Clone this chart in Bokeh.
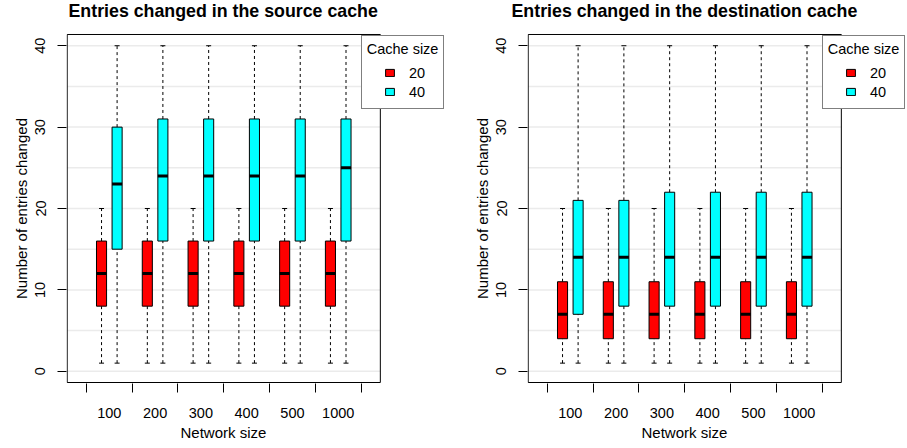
import numpy as np
from bokeh.plotting import figure
from bokeh.models import ColumnDataSource, FixedTicker, Legend, LegendItem, Range1d, Title
from bokeh.layouts import row
from bokeh.embed import file_html
from bokeh.resources import INLINE

# ---------------- data ----------------
categories = ["100", "200", "300", "400", "500", "1000"]
cache_sizes = ["20", "40"]

# source cache, cache size 20
src20_low = [1, 1, 1, 1, 1, 1]
src20_q1 = [8, 8, 8, 8, 8, 8]
src20_med = [12, 12, 12, 12, 12, 12]
src20_q3 = [16, 16, 16, 16, 16, 16]
src20_high = [20, 20, 20, 20, 20, 20]
# source cache, cache size 40
src40_low = [1, 1, 1, 1, 1, 1]
src40_q1 = [15, 16, 16, 16, 16, 16]
src40_med = [23, 24, 24, 24, 24, 25]
src40_q3 = [30, 31, 31, 31, 31, 31]
src40_high = [40, 40, 40, 40, 40, 40]
# destination cache, cache size 20
dst20_low = [1, 1, 1, 1, 1, 1]
dst20_q1 = [4, 4, 4, 4, 4, 4]
dst20_med = [7, 7, 7, 7, 7, 7]
dst20_q3 = [11, 11, 11, 11, 11, 11]
dst20_high = [20, 20, 20, 20, 20, 20]
# destination cache, cache size 40
dst40_low = [1, 1, 1, 1, 1, 1]
dst40_q1 = [7, 8, 8, 8, 8, 8]
dst40_med = [14, 14, 14, 14, 14, 14]
dst40_q3 = [21, 21, 22, 22, 22, 22]
dst40_high = [40, 40, 40, 40, 40, 40]

y_ticks = [0, 10, 20, 30, 40]
grid_ticks = [0, 5, 10, 15, 20, 25, 30, 35, 40]

# ---------------- layout / style ----------------
COLORS = ["#FF0000", "#00FFFF"]
FONT = "Liberation Sans"
OFFSET = 0.17
BOX_W = 0.22
# plot-box limits (R style box); the bokeh frame extends further right to host the legend
BOX_X = (0.08, 6.92)
BOX_Y = (-1.38, 41.38)
PX_X = 45.78   # px per x unit
PX_Y = 8.185   # px per y unit
FRAME_W = 379
X_RANGE = (BOX_X[0] - 0.7 / PX_X, BOX_X[0] - 0.7 / PX_X + FRAME_W / PX_X)
Y_RANGE = (BOX_Y[0] - 1 / PX_Y, BOX_Y[1] + 1 / PX_Y)


def panel(title, stats20, stats40, width, mb_right, title_offset):
    p = figure(width=width, height=448, output_backend="svg", toolbar_location=None,
               x_range=Range1d(*X_RANGE), y_range=Range1d(*Y_RANGE),
               min_border_left=66, min_border_right=mb_right,
               min_border_top=31, min_border_bottom=65, title=None)
    p.background_fill_color = "white"
    p.border_fill_color = "white"
    p.outline_line_color = None

    # spacer between plot box and main title, then the main title
    p.add_layout(Title(text=" ", text_font_size="8px", standoff=0), "above")
    p.add_layout(Title(text=title, text_font=FONT, text_font_size="17.8px",
                       text_font_style="bold", text_color="black", align="left",
                       offset=title_offset, standoff=0, vertical_align="top"), "above")

    # horizontal grid lines inside the box
    p.segment(x0=BOX_X[0], x1=BOX_X[1], y0=grid_ticks, y1=grid_ticks,
              line_color="#EBEBEB", line_width=1.5)

    xs = np.arange(1, len(categories) + 1)
    renderers = []
    for stats, off, color in ((stats20, -OFFSET, COLORS[0]), (stats40, OFFSET, COLORS[1])):
        low, q1, med, q3, high = stats
        x = xs + off
        src = ColumnDataSource(dict(x=x, xl=x - BOX_W / 2, xr=x + BOX_W / 2,
                                    low=low, q1=q1, med=med, q3=q3, high=high))
        p.segment(x0="x", y0="low", x1="x", y1="q1", source=src,
                  line_color="black", line_width=1, line_dash="3 3")
        p.segment(x0="x", y0="q3", x1="x", y1="high", source=src,
                  line_color="black", line_width=1, line_dash="3 3")
        p.scatter(x="x", y="low", marker="dash", size=5, source=src, line_color="black")
        p.scatter(x="x", y="high", marker="dash", size=5, source=src, line_color="black")
        r = p.vbar(x="x", width=BOX_W, bottom="q1", top="q3", source=src,
                   fill_color=color, line_color="black", line_width=1)
        p.segment(x0="xl", y0="med", x1="xr", y1="med", source=src,
                  line_color="black", line_width=3)
        renderers.append(r)

    # the box around the plotting region
    p.quad(left=BOX_X[0], right=BOX_X[1], bottom=BOX_Y[0], top=BOX_Y[1],
           fill_color=None, line_color="black", line_width=1)

    # axes
    p.xaxis.ticker = FixedTicker(ticks=[int(v) for v in xs],
                                 minor_ticks=[float(v) - 0.5 for v in xs] + [float(xs[-1]) + 0.5])
    p.xaxis.major_label_overrides = {int(i): c for i, c in zip(xs, categories)}
    p.xaxis.major_tick_out = 0
    p.xaxis.major_tick_in = 0
    p.xaxis.minor_tick_out = 9
    p.xaxis.minor_tick_in = 0
    p.xaxis.minor_tick_line_color = "black"
    p.xaxis.axis_line_color = None
    p.xaxis.major_label_standoff = 15
    # x-axis title, placed under the tick labels and centred on the plot box
    p.add_layout(Title(text="Network size", text_font=FONT, text_font_size="15px",
                       text_font_style="normal", text_color="black", align="left",
                       offset=114, standoff=6, vertical_align="top"), "below")

    p.yaxis.ticker = FixedTicker(ticks=y_ticks, minor_ticks=[])
    p.yaxis.major_tick_out = 9
    p.yaxis.major_tick_in = 0
    p.yaxis.major_tick_line_color = "black"
    p.yaxis.axis_line_color = None
    p.yaxis.major_label_orientation = "vertical"
    p.yaxis.major_label_standoff = 12
    p.yaxis.axis_label = "Number of entries changed"
    p.yaxis.axis_label_standoff = 3

    for ax in (p.xaxis, p.yaxis):
        ax.major_label_text_font = FONT
        ax.major_label_text_font_size = "14.5px"
        ax.major_label_text_color = "black"
        ax.axis_label_text_font = FONT
        ax.axis_label_text_font_size = "15px"
        ax.axis_label_text_font_style = "normal"
        ax.axis_label_text_color = "black"

    p.xgrid.visible = False
    p.ygrid.visible = False

    # legend: framed box with title, and the item rows drawn on top of it
    dummy = p.scatter(x=[], y=[], fill_alpha=0, line_alpha=0)
    leg_box = Legend(items=[LegendItem(label=" ", renderers=[dummy]),
                            LegendItem(label=" ", renderers=[dummy])],
                     title="Cache size", location=(294.7, 274))
    leg_items = Legend(items=[LegendItem(label=cache_sizes[0], renderers=[renderers[0]]),
                              LegendItem(label=cache_sizes[1], renderers=[renderers[1]])],
                       location=(318, 282))
    for lg in (leg_box, leg_items):
        lg.margin = 0
        lg.spacing = 0
        lg.glyph_width = 11
        lg.glyph_height = 9
        lg.label_standoff = 14
        lg.label_text_font = FONT
        lg.label_text_font_size = "14.5px"
        lg.label_text_color = "black"
        lg.title_text_font = FONT
        lg.title_text_font_size = "14.5px"
        lg.title_text_font_style = "normal"
        lg.title_text_color = "black"
    leg_box.padding = 5
    leg_box.title_standoff = 6
    leg_box.label_height = 20
    leg_box.border_line_color = "black"
    leg_box.border_line_width = 1
    leg_box.background_fill_color = "white"
    leg_box.background_fill_alpha = 1
    leg_items.padding = 0
    leg_items.label_height = 19
    leg_items.border_line_color = None
    leg_items.background_fill_alpha = 0
    p.add_layout(leg_box, "center")
    p.add_layout(leg_items, "center")
    return p


p1 = panel("Entries changed in the source cache",
           (src20_low, src20_q1, src20_med, src20_q3, src20_high),
           (src40_low, src40_q1, src40_med, src40_q3, src40_high),
           461, 16, 2)
p2 = panel("Entries changed in the destination cache",
           (dst20_low, dst20_q1, dst20_med, dst20_q3, dst20_high),
           (dst40_low, dst40_q1, dst40_med, dst40_q3, dst40_high),
           446, 1, -16)

layout = row(p1, p2)
open("out.html", "w").write(file_html(layout, INLINE))
